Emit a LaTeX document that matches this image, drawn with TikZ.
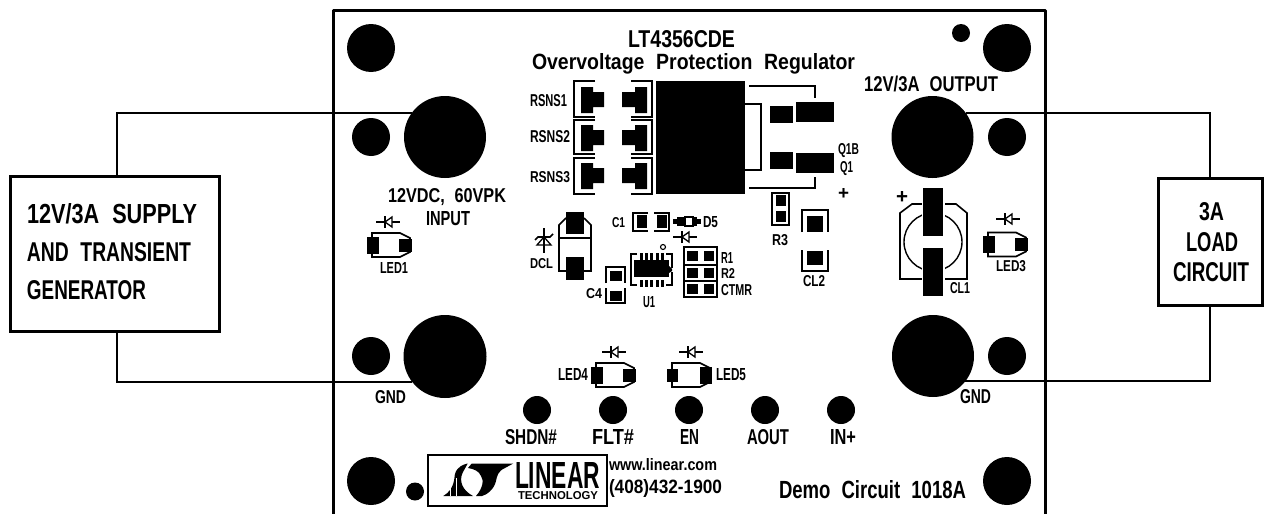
\documentclass[tikz,border=0pt]{standalone}
\usepackage{graphicx}
\usepackage{fontspec}
\setmainfont{Liberation Sans}
\tikzset{
  hole/.style={circle,fill=black,draw=none,inner sep=0pt,outer sep=0pt,minimum size=#1},
  wire/.style={line width=2.4pt,black},
  ext/.style={rectangle,draw=black,line width=3pt,fill=white,inner sep=0pt,outer sep=0pt},
  board/.style={line width=3pt,black,line cap=round,line join=round},
  silk/.style={line width=1.6pt,black,line join=miter},
  lab/.style={anchor=base west,inner sep=0pt,outer sep=0pt,black},
  diodesym/.pic={
    \draw[line width=1.5pt] (-12,0) -- (12,0);
    \draw[line width=1.8pt] (-3,-6) -- (-3,6);
    \draw[line width=1.3pt,fill=white] (-3,0) -- (4,-5) -- (4,5) -- cycle;
  },
  ledbody/.pic={
    \draw[silk,fill=white] (5,-12) -- (33,-12) -- (43,-7) -- (43,7) -- (33,12) -- (5,12) -- cycle;
  },
  ledl/.pic={
    \pic at (0,0) {ledbody};
    \fill (0,-8.5) rectangle (12,8.5);
    \fill (32,-6.5) rectangle (45,6.5);
  },
  ledr/.pic={
    \pic at (0,0) {ledbody};
    \fill (0,-6.5) rectangle (11,6.5);
    \fill (33,-8.5) rectangle (45,8.5);
  },
  rsnsrow/.pic={
    \fill (581,87) -- (593,87) -- (593,92) -- (604,92) -- (604,107) -- (593,107) -- (593,113) -- (581,113) -- cycle;
    \fill (647,87) -- (635,87) -- (635,92) -- (622,92) -- (622,107) -- (635,107) -- (635,113) -- (647,113) -- cycle;
  }
}
% name, left x, baseline y, width, cap height, text
\newcommand{\tl}[6]{\node[lab] (#1) at (#2,#3) {\resizebox{#4pt}{#5pt}{\bfseries\spaceskip=.6em\relax #6}};}
\begin{document}
\begin{tikzpicture}[x=1pt,y=-1pt]
\useasboundingbox (0,0) rectangle (1264,514);
\fill[white] (0,0) rectangle (1264,514);

% board outline
\draw[board] (333,514) -- (333,10) -- (1045,10) -- (1045,514);

% holes
\node[hole=48] (mTL) at (371,48) {};
\node[hole=48] (mTR) at (1007,48) {};
\node[hole=48] (mBL) at (371,481) {};
\node[hole=48] (mBR) at (1007,481) {};
\node[hole=18] (dotT) at (961,33) {};
\node[hole=18] (dotB) at (415,491.5) {};
\node[hole=38] (sIn) at (371,137) {};
\node[hole=38] (sGL) at (371,356) {};
\node[hole=38] (sOut) at (1007,137) {};
\node[hole=38] (sGR) at (1007,356) {};
\node[hole=82] (hIn) at (445,137) {};
\node[hole=83] (hGL) at (445,356.5) {};
\node[hole=82] (hOut) at (932.5,137) {};
\node[hole=82] (hGR) at (933,356) {};
\node[hole=28] (tSHDN) at (537,410) {};
\node[hole=28] (tFLT) at (613,410) {};
\node[hole=28] (tEN) at (689,410) {};
\node[hole=28] (tAOUT) at (765,410) {};
\node[hole=28] (tIN) at (841,410) {};

% external boxes
\node[ext,minimum width=209pt,minimum height=155pt] (supply) at (114.5,253.5) {};
\node[ext,minimum width=104pt,minimum height=127pt] (load) at (1210,241.5) {};

% wires
\draw[wire] ([xshift=2.5pt]supply.north) |- (hIn.144);
\draw[wire] ([xshift=2.5pt]supply.south) |- (hGL.218);
\draw[wire] (load.north) |- (hOut.36);
\draw[wire] (load.south) |- (hGR.322);

% box texts
\tl{s1}{27}{223}{170}{20}{12V/3A SUPPLY}
\tl{s2}{27}{261}{164}{19}{AND TRANSIENT}
\tl{s3}{27}{299}{119}{19}{GENERATOR}
\tl{l1}{1199}{220}{25}{18}{3A}
\tl{l2}{1186}{251}{52}{19}{LOAD}
\tl{l3}{1173}{281}{76}{19}{CIRCUIT}

% titles and board texts
\tl{t1}{628}{47}{107}{17}{LT4356CDE}
\tl{t2}{532}{69}{323}{16}{Overvoltage Protection Regulator}
\tl{t3}{864}{91}{134}{15.5}{12V/3A OUTPUT}
\tl{t4}{388}{202}{118}{14}{12VDC, 60VPK}
\tl{t5}{426}{225}{44}{14}{INPUT}
\tl{t6}{375}{403}{31}{13}{GND}
\tl{t7}{960}{403}{31}{14}{GND}
\tl{t8}{505}{444}{52}{15}{SHDN\#}
\tl{t9}{592}{444}{42}{15}{FLT\#}
\tl{t10}{680}{444}{19}{15}{EN}
\tl{t11}{747}{444}{42}{15}{AOUT}
\tl{t12}{830}{444}{26}{15}{IN+}
\tl{t13}{779}{498}{187}{18}{Demo Circuit 1018A}
\tl{t14}{609}{470}{108}{12}{www.linear.com}
\tl{t15}{609}{493}{113}{14}{(408)432-1900}

% component labels
\tl{c1}{530}{106}{37}{12}{RSNS1}
\tl{c2}{530}{142}{40}{12}{RSNS2}
\tl{c3}{530}{182}{40}{11}{RSNS3}
\tl{c4}{838}{154}{21}{11}{Q1B}
\tl{c5}{840}{172}{13}{11}{Q1}
\tl{c6}{838}{199}{11}{11}{+}
\tl{c7}{896}{203}{12}{12}{+}
\tl{c8}{772}{245}{16}{11}{R3}
\tl{c9}{803}{286}{22}{11}{CL2}
\tl{c10}{612}{227}{13}{10}{C1}
\tl{c11}{703}{227}{15}{11}{D5}
\tl{c12}{530}{268}{23}{10}{DCL}
\tl{c13}{586}{298}{16}{10}{C4}
\tl{c14}{643}{307}{12}{11}{U1}
\tl{c15}{721}{263}{12}{11}{R1}
\tl{c16}{721}{278}{14}{10}{R2}
\tl{c17}{721}{295}{31}{11}{CTMR}
\tl{c18}{558}{380}{30}{12}{LED4}
\tl{c19}{716}{380}{30}{12}{LED5}
\tl{c20}{380}{273}{28}{11}{LED1}
\tl{c21}{996}{271}{30}{11}{LED3}
\tl{c22}{950}{293}{20}{11}{CL1}

% main regulator FET
\fill (656,81) rectangle (745,194);
\draw[silk] (749,86) -- (815,86) -- (815,98);
\draw[silk] (749,188) -- (815,188) -- (815,177);
\draw[silk] (745,104) -- (761,104) -- (761,170) -- (745,170);
\fill (770,106) rectangle (793,123);
\fill (796,102) rectangle (834,122);
\fill (770,152) rectangle (793,169);
\fill (796,153) rectangle (834,173);

% RSNS resistors
\foreach \d in {0,38,76}{
  \pic[yshift=-\d pt] at (0,0) {rsnsrow};
}
\draw[silk] (595,81) -- (574,81) -- (574,117) -- (595,117);
\draw[silk] (595,120) -- (574,120) -- (574,154) -- (595,154);
\draw[silk] (595,158) -- (574,158) -- (574,194) -- (595,194);
\draw[silk] (631,81) -- (652,81) -- (652,117) -- (631,117);
\draw[silk] (631,120) -- (652,120) -- (652,154) -- (631,154);
\draw[silk] (631,158) -- (652,158) -- (652,194) -- (631,194);

% R3
\draw[silk] (772,193) rectangle (789,225);
\fill (776,195) rectangle (786,206);
\fill (776,211) rectangle (786,222);

% CL2
\draw[silk] (802,232) -- (802,210) -- (828,210) -- (828,232);
\draw[silk] (802,250) -- (802,271) -- (828,271) -- (828,250);
\fill (807,216) rectangle (823,232);
\fill (807,251) rectangle (823,265);

% C1 and D5
\draw[silk] (648,213) -- (633,213) -- (633,231) -- (648,231);
\draw[silk] (654,213) -- (669,213) -- (669,231) -- (654,231);
\fill (637,215) rectangle (647,228);
\fill (657,215) rectangle (667,228);
\fill (673,218.5) rectangle (677,223.5);
\fill (677,217) rectangle (685,226);
\draw[line width=1.2pt] (685,217) rectangle (693,226);
\fill (693,217) rectangle (697,226);
\fill (697,219) rectangle (701,224);
\pic at (685,237) {diodesym};

% DCL
\draw[silk] (566,218) -- (559,225) -- (559,271) -- (591,271) -- (591,225) -- (584,218);
\draw[line width=2.4pt] (559,238) -- (591,238);
\fill (566,212) rectangle (584,234);
\fill (566,257) rectangle (584,280);
\draw[line width=1.5pt] (544,228) -- (544,253);
\draw[line width=1.3pt] (544,237) -- (537,245) -- (551,245) -- cycle;
\draw[line width=1.7pt] (535,240) -- (538,237) -- (550,237) -- (553,234);

% C4
\draw[silk] (606,283) -- (606,267) -- (625,267) -- (625,283);
\draw[silk] (606,288) -- (606,303) -- (625,303) -- (625,288);
\fill (610,271) rectangle (622,281);
\fill (610,291) rectangle (622,301);

% U1
\draw[silk] (637,254) -- (631,254) -- (631,285) -- (637,285);
\draw[silk] (666,254) -- (672,254) -- (672,268);
\draw[silk] (672,272) -- (672,285) -- (666,285);
\fill (634,260) rectangle (669,277);
\fill (669,266) -- (672,269) -- (672,271) -- (669,273) -- cycle;
\foreach \px in {641,646,651.5,657,662}{
  \fill (\px-1.5,253) rectangle (\px+1.5,260);
  \fill (\px-1.5,280) rectangle (\px+1.5,287);
}
\node[circle,draw=black,line width=1.1pt,inner sep=0pt,minimum size=5pt] (pin1) at (663,247) {};

% R1 R2 CTMR
\draw[line width=1.8pt] (684,247) rectangle (717,297);
\draw[line width=1.8pt] (684,265) -- (717,265);
\draw[line width=1.8pt] (684,281) -- (717,281);
\foreach \ya/\yb in {251/261,267.5/278,283.5/294}{
  \fill (687,\ya) rectangle (698,\yb);
  \fill (704,\ya) rectangle (714,\yb);
}

% LEDs
\pic at (367,245) {ledl};
\pic at (388,222) {diodesym};
\pic at (983,244.5) {ledl};
\pic at (1008,219) {diodesym};
\pic at (591,375) {ledl};
\pic at (614,352) {diodesym};
\pic at (667,375) {ledr};
\pic at (691,352) {diodesym};

% CL1
\draw[line width=1.4pt] (933,242) circle (29);
\draw[silk] (922,279) -- (900,279) -- (900,213) -- (912,204) -- (922,204);
\draw[silk] (945,204) -- (956,204) -- (967,213) -- (967,279) -- (945,279);
\fill[black,draw=white,line width=3pt] (923,188) rectangle (943,236);
\fill[black,draw=white,line width=3pt] (923,248) rectangle (943,296);
\fill (923,188) rectangle (943,236);
\fill (923,248) rectangle (943,296);

% logo
\draw[line width=2.2pt] (428,455) rectangle (607,506);
\fill (443.3,496) .. controls (455,489) and (454,478) .. (455,474)
  .. controls (457,466) and (465,464) .. (467.7,463.5)
  -- (462.5,473) .. controls (459,481) and (462,490) .. (473,496) -- cycle;
\fill (471.7,463.5) -- (513.3,463.5) -- (505,468) .. controls (498,471) and (497,476) .. (496,481)
  .. controls (494,490) and (486,495) .. (482,496) -- (476,496)
  .. controls (483,488) and (484,480) .. (481,476)
  .. controls (479,471) and (474,469) .. (468,468) -- cycle;
\draw[white,line width=.6pt] (450,484) -- (450,496);
\draw[white,line width=.6pt] (456.7,478) -- (456.7,496);
\tl{logoA}{515}{488}{85}{26}{LINEAR}
\tl{logoB}{518}{499}{80}{8}{TECHNOLOGY}
\end{tikzpicture}
\end{document}
